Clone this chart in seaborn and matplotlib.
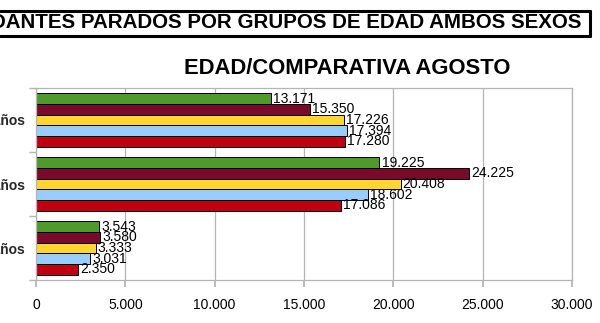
import numpy as np
import pandas as pd
import matplotlib
matplotlib.use("Agg")
import matplotlib.pyplot as plt
from matplotlib.lines import Line2D
from matplotlib.ticker import FuncFormatter, FixedLocator
import seaborn as sns

# ---- data ----
categories = ["Mayores de 44 años", "De 25 a 44 años", "Menores de 25 años"]
series = ["Agosto 2013", "Agosto 2012", "Agosto 2011", "Agosto 2010", "Agosto 2009"]
values_2013 = [13171, 19225, 3543]
values_2012 = [15350, 24225, 3580]
values_2011 = [17226, 20408, 3333]
values_2010 = [17394, 18602, 3031]
values_2009 = [17280, 17086, 2350]
colors = ["#4E9A2A", "#7A0A2A", "#FFD530", "#99CCFF", "#C00010"]
x_ticks = [0, 5000, 10000, 15000, 20000, 25000, 30000]
main_title = "DEMANDANTES PARADOS POR GRUPOS DE EDAD AMBOS SEXOS"
sub_title = "EDAD/COMPARATIVA AGOSTO"

all_vals = [values_2013, values_2012, values_2011, values_2010, values_2009]
rows = []
for s, vals in zip(series, all_vals):
    for c, v in zip(categories, vals):
        rows.append({"Edad": c, "Serie": s, "Parados": v})
df = pd.DataFrame(rows)

sns.set_theme(style="white")
plt.rcParams["font.family"] = ["Liberation Sans", "DejaVu Sans"]

fig = plt.figure(figsize=(6.0, 3.23), dpi=100)
ax = fig.add_axes([36 / 600, 43 / 323, 536 / 600, 192 / 323])

sns.barplot(data=df, y="Edad", x="Parados", hue="Serie", order=categories,
            hue_order=series, palette=colors, orient="h", width=0.83,
            edgecolor="black", linewidth=0.7, saturation=1, ax=ax, legend=False)

fmt = lambda v: f"{int(round(v)):,}".replace(",", ".")
for cont in ax.containers:
    ax.bar_label(cont, labels=[fmt(b.get_width()) for b in cont], padding=1.5,
                 fontsize=10, color="black")

ax.set_xlim(0, 30000)
ax.xaxis.set_major_locator(FixedLocator(x_ticks))
ax.xaxis.set_major_formatter(FuncFormatter(lambda v, p: fmt(v)))
ax.grid(axis="x", color="#B4B4B4", linewidth=0.9)
ax.set_axisbelow(True)
for sp in ax.spines.values():
    sp.set_color("#B4B4B4")
    sp.set_linewidth(0.9)
ax.set_xlabel("")
ax.set_ylabel("")
ax.tick_params(axis="x", labelsize=10, colors="#B4B4B4", labelcolor="black",
               length=5, pad=8, direction="out", bottom=True)
# category labels and boundary ticks on y axis
ax.set_yticks([0, 1, 2])
ax.set_yticklabels(categories, fontsize=10, fontweight="bold")
ax.tick_params(axis="y", length=0, pad=8)
ax.set_yticks([-0.5, 0.5, 1.5, 2.5], minor=True)
ax.tick_params(axis="y", which="minor", length=5, color="#B4B4B4", left=True)

# title band
fig.text(581 / 600, 1 - 23 / 323, main_title, ha="right", va="center",
         fontsize=14.8, fontweight="bold", color="black")
y1, y2, xr = 1 - 11 / 323, 1 - 36 / 323, 590 / 600
fig.add_artist(Line2D([0, xr], [y1, y1], color="black", lw=2.2, transform=fig.transFigure))
fig.add_artist(Line2D([0, xr], [y2, y2], color="black", lw=2.2, transform=fig.transFigure))
fig.add_artist(Line2D([xr, xr], [y1, y2], color="black", lw=2.2, transform=fig.transFigure))

fig.text(347 / 600, 1 - 69 / 323, sub_title, ha="center", va="center",
         fontsize=15.8, fontweight="bold", color="black")

fig.savefig("out.png", dpi=100)
